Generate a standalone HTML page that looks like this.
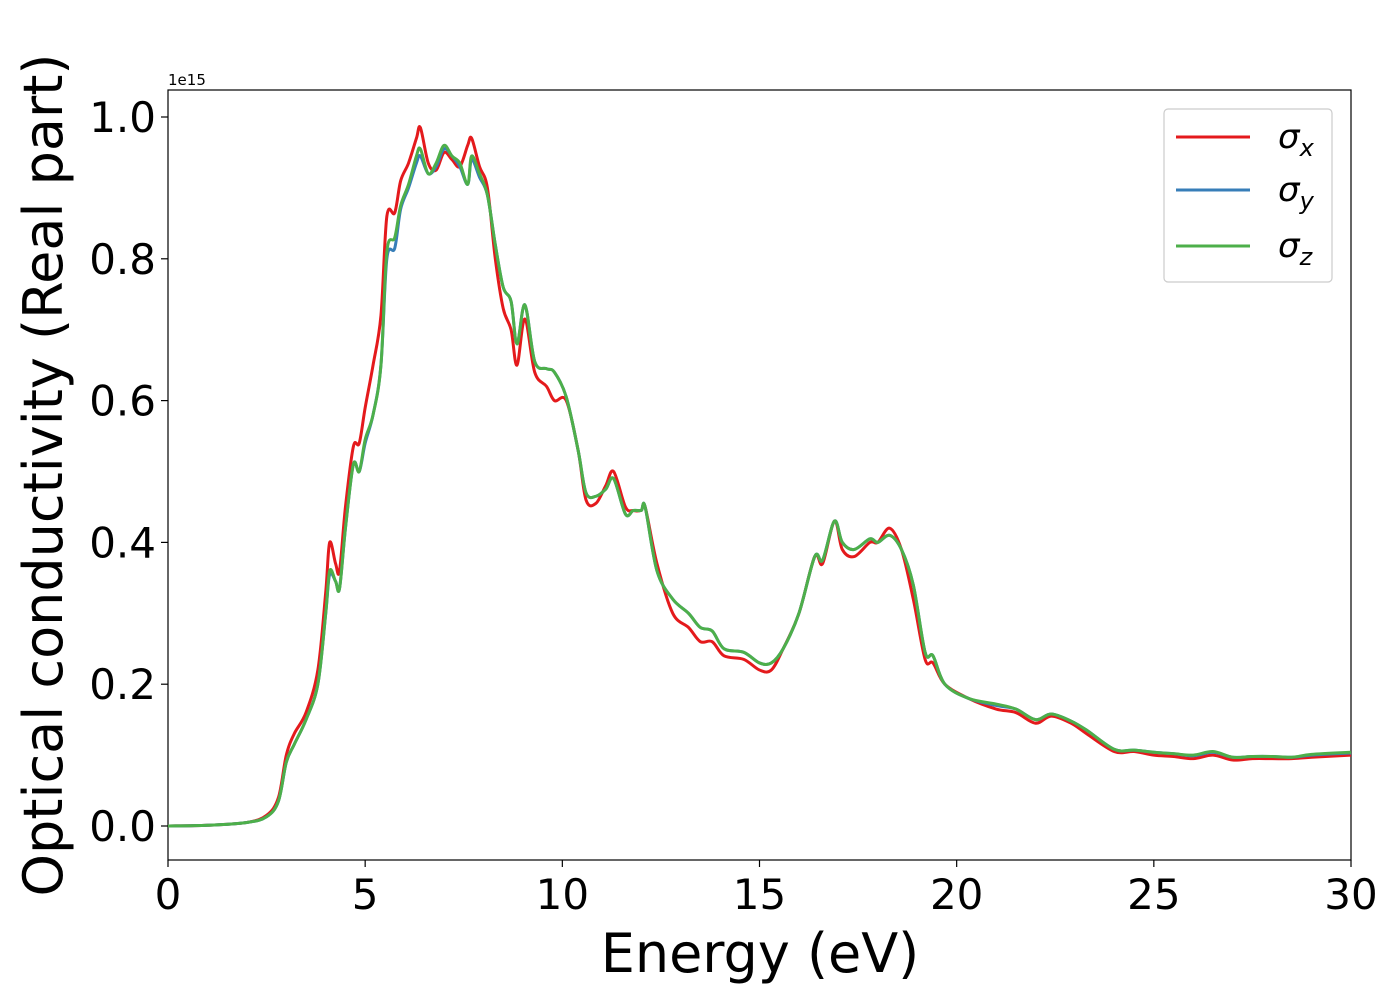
<!DOCTYPE html>
<html><head><meta charset="utf-8"><style>
body{margin:0;background:#fff;}
svg{display:block;font-family:"DejaVu Sans","Liberation Sans",sans-serif;}
</style></head><body>
<svg id="chart" width="1400" height="1000">
<rect x="168" y="90" width="1183" height="770" fill="#fff" stroke="#000" stroke-width="1.2"/>
<g id="series"></g>
<g id="axes"></g>
<text x="168" y="85" font-size="15">1e15</text>
<text x="760" y="972" font-size="54" text-anchor="middle">Energy (eV)</text>
<text transform="translate(62,475) rotate(-90)" font-size="54" text-anchor="middle">Optical conductivity (Real part)</text>
<g>
<rect x="1164" y="109" width="168" height="173" rx="4" fill="#fff" stroke="#ccc" stroke-width="1.2"/>
<g><line x1="1176" y1="137" x2="1250" y2="137" stroke="#e41a1c" stroke-width="3"/><text x="1278" y="148" font-size="34" font-style="italic">σ<tspan font-size="24" dy="8">x</tspan></text></g>
<g><line x1="1176" y1="190" x2="1250" y2="190" stroke="#377eb8" stroke-width="3"/><text x="1278" y="201" font-size="34" font-style="italic">σ<tspan font-size="24" dy="8">y</tspan></text></g>
<g><line x1="1176" y1="246" x2="1250" y2="246" stroke="#4daf4a" stroke-width="3"/><text x="1278" y="257" font-size="34" font-style="italic">σ<tspan font-size="24" dy="8">z</tspan></text></g>
</g>
</svg>
<script>
const energy = [0,1,2,2.5,2.8,3.0,3.2,3.5,3.8,4.0,4.1,4.25,4.35,4.5,4.7,4.85,5.0,5.2,5.4,5.55,5.75,5.9,6.1,6.3,6.4,6.6,6.8,7.0,7.2,7.4,7.6,7.7,7.9,8.1,8.3,8.5,8.7,8.85,9.05,9.3,9.6,9.8,10.1,10.4,10.6,10.85,11.1,11.3,11.6,11.8,12.0,12.1,12.4,12.8,13.2,13.5,13.8,14.1,14.6,15.0,15.3,15.6,16.0,16.4,16.6,16.9,17.1,17.4,17.8,18.0,18.3,18.6,18.9,19.2,19.4,19.7,20.3,21,21.5,22,22.4,22.9,23.3,24,24.5,25,25.5,26,26.5,27,27.5,28,28.5,29,30];
const sigmaX = [0,0.001,0.005,0.015,0.04,0.1,0.13,0.16,0.22,0.33,0.40,0.37,0.36,0.45,0.535,0.54,0.59,0.65,0.72,0.86,0.865,0.91,0.935,0.97,0.985,0.935,0.925,0.95,0.94,0.93,0.96,0.97,0.93,0.90,0.80,0.73,0.70,0.65,0.715,0.64,0.62,0.60,0.60,0.53,0.46,0.455,0.48,0.50,0.45,0.445,0.445,0.45,0.37,0.30,0.28,0.26,0.26,0.24,0.235,0.22,0.22,0.25,0.30,0.38,0.37,0.43,0.39,0.38,0.40,0.40,0.42,0.39,0.32,0.235,0.23,0.20,0.18,0.165,0.16,0.145,0.155,0.145,0.13,0.105,0.105,0.10,0.098,0.095,0.10,0.093,0.095,0.095,0.095,0.097,0.10];
const sigmaY = [0,0.001,0.005,0.013,0.035,0.09,0.115,0.15,0.2,0.30,0.355,0.345,0.335,0.42,0.51,0.50,0.54,0.58,0.65,0.80,0.815,0.87,0.9,0.935,0.945,0.92,0.93,0.955,0.945,0.93,0.905,0.94,0.915,0.89,0.82,0.76,0.74,0.68,0.735,0.655,0.645,0.64,0.605,0.53,0.47,0.465,0.475,0.49,0.44,0.445,0.445,0.45,0.36,0.32,0.30,0.28,0.275,0.25,0.245,0.23,0.23,0.25,0.30,0.38,0.375,0.43,0.40,0.39,0.405,0.40,0.41,0.39,0.34,0.245,0.24,0.20,0.18,0.17,0.165,0.15,0.158,0.148,0.135,0.108,0.107,0.104,0.102,0.099,0.104,0.097,0.098,0.098,0.097,0.1,0.103];
const sigmaZ = [0,0.001,0.005,0.013,0.035,0.09,0.115,0.15,0.2,0.30,0.36,0.345,0.335,0.42,0.51,0.50,0.545,0.58,0.65,0.81,0.83,0.875,0.905,0.945,0.955,0.92,0.935,0.96,0.945,0.935,0.905,0.945,0.92,0.89,0.82,0.76,0.74,0.68,0.735,0.655,0.645,0.64,0.605,0.53,0.47,0.465,0.475,0.49,0.44,0.445,0.445,0.45,0.36,0.32,0.30,0.28,0.275,0.25,0.245,0.23,0.23,0.25,0.30,0.38,0.375,0.43,0.40,0.39,0.405,0.40,0.41,0.39,0.34,0.245,0.24,0.20,0.18,0.172,0.165,0.15,0.158,0.148,0.135,0.108,0.107,0.104,0.102,0.1,0.105,0.097,0.098,0.098,0.097,0.101,0.104];
const xTicks = [0,5,10,15,20,25,30];
const yTicks = [0.0,0.2,0.4,0.6,0.8,1.0];

const NS="http://www.w3.org/2000/svg";
const X = e => 168 + (e-0)/30*1183;
const Y = v => 826 - v*709;
function smoothPath(xs, ys){
  const p = xs.map((e,i)=>[X(e),Y(ys[i])]);
  let d = "M"+p[0][0]+","+p[0][1];
  for(let i=0;i<p.length-1;i++){
    const p0=p[Math.max(0,i-1)],p1=p[i],p2=p[i+1],p3=p[Math.min(p.length-1,i+2)];
    const c1=[p1[0]+(p2[0]-p0[0])/6,p1[1]+(p2[1]-p0[1])/6];
    const c2=[p2[0]-(p3[0]-p1[0])/6,p2[1]-(p3[1]-p1[1])/6];
    d+=" C"+c1[0]+","+c1[1]+" "+c2[0]+","+c2[1]+" "+p2[0]+","+p2[1];
  }
  return d;
}
const sg=document.getElementById('series');
[[sigmaX,'#e41a1c','series-sigma-x'],[sigmaY,'#377eb8','series-sigma-y'],[sigmaZ,'#4daf4a','series-sigma-z']].forEach(s=>{
  const path=document.createElementNS(NS,'path');
  path.setAttribute('d',smoothPath(energy,s[0]));
  path.setAttribute('fill','none');
  path.setAttribute('stroke',s[1]);
  path.setAttribute('stroke-width','3');
  
  
  sg.appendChild(path);
});
const ag=document.getElementById('axes');
xTicks.forEach(t=>{
  const l=document.createElementNS(NS,'line');
  l.setAttribute('x1',X(t));l.setAttribute('x2',X(t));l.setAttribute('y1',860);l.setAttribute('y2',867);l.setAttribute('stroke','#000');l.setAttribute('stroke-width','1.2');
  
  
  ag.appendChild(l);
  const tx=document.createElementNS(NS,'text');
  tx.setAttribute('x',X(t));tx.setAttribute('y',909);tx.setAttribute('font-size','42');tx.setAttribute('text-anchor','middle');
  tx.textContent=t;
  
  
  ag.appendChild(tx);
});
yTicks.forEach(t=>{
  const l=document.createElementNS(NS,'line');
  l.setAttribute('x1',161);l.setAttribute('x2',168);l.setAttribute('y1',Y(t));l.setAttribute('y2',Y(t));l.setAttribute('stroke','#000');l.setAttribute('stroke-width','1.2');
  
  
  ag.appendChild(l);
  const tx=document.createElementNS(NS,'text');
  tx.setAttribute('x',156);tx.setAttribute('y',Y(t)+15);tx.setAttribute('font-size','42');tx.setAttribute('text-anchor','end');
  tx.textContent=t.toFixed(1);
  
  
  ag.appendChild(tx);
});
</script>
</body></html>
